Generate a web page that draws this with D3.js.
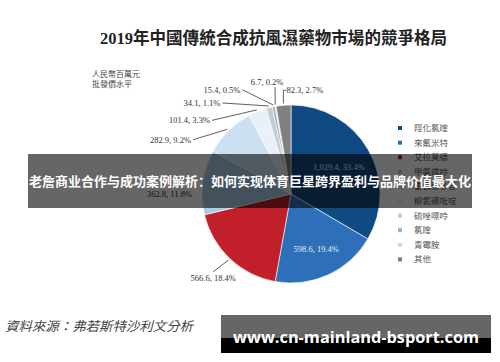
<!DOCTYPE html>
<html>
<head>
<meta charset="utf-8">
<script src="https://cdn.jsdelivr.net/npm/d3@7"></script>
<style>
  html, body { margin: 0; padding: 0; background: #fff; }
  svg { display: block; }
</style>
</head>
<body>
<svg id="chart" width="500" height="362"></svg>
<script>
// data
const drugs = ['羥化氯喹', '來氟米特', '艾拉莫德', '甲氨蝶呤', '雷公藤多苷',
  '柳氮磺吡啶', '硫唑嘌呤', '氯喹', '青霉胺', '其他'];
const sales = [1029.4, 598.6, 566.6, 362.8, 282.9, 101.4, 34.1, 15.4, 6.7, 82.3];
const sliceColors = ['#0f4a83', '#2d6fb8', '#c11f2a', '#a9cbe8', '#cde0f2',
  '#e9f0f8', '#c3ccd8', '#9fb0c4', '#ddd8c8', '#808080'];

const title = '2019年中國傳統合成抗風濕藥物市場的競爭格局';
const unitLines = ['人民幣百萬元', '批發價水平'];
const sourceNote = '資料來源：弗若斯特沙利文分析';
const bannerText = '老詹商业合作与成功案例解析：如何实现体育巨星跨界盈利与品牌价值最大化';
const watermark = 'www.cn-mainland-bsport.com';

// callout placement for each slice (angle in degrees from 12 o'clock, radius)
const callouts = [
  { mode: 'inside', k: 0.62 },
  { mode: 'inside', k: 0.68 },
  { a: 225, r: 110, anchor: 'below' },
  { a: 270, r: 97, anchor: 'end', noLine: true },
  { a: 299, r: 112, anchor: 'end' },
  { a: 313, r: 108, anchor: 'end' },
  { a: 323, r: 114, anchor: 'end' },
  { a: 335, r: 115, anchor: 'end' },
  { a: 351.5, r: 108, anchor: 'above' },
  { a: 356, r: 104, anchor: 'bracket' }
];

const svg = d3.select('#chart');
const cx = 291, cy = 194, radius = 89;
const serif = '"Liberation Serif", "Noto Sans CJK TC", serif';
const cjk = '"Noto Sans CJK TC", "Noto Sans CJK SC", sans-serif';

// title
svg.append('text')
  .attr('x', 100).attr('y', 44)
  .attr('textLength', 347).attr('lengthAdjust', 'spacingAndGlyphs')
  .style('font-family', serif).style('font-weight', 'bold')
  .style('font-size', '16.5px').style('fill', '#222')
  .text(title);

svg.selectAll('.unit')
  .data(unitLines)
  .enter().append('text')
  .attr('class', 'unit')
  .attr('x', 92).attr('y', (d, i) => 77 + i * 10)
  .style('font-family', cjk).style('font-size', '8px').style('fill', '#444')
  .text(d => d);

// pie
const total = d3.sum(sales);
const pie = d3.pie().sort(null).value(d => d)(sales);
const arc = d3.arc().innerRadius(0).outerRadius(radius);
const g = svg.append('g').attr('transform', `translate(${cx},${cy})`);

g.selectAll('path.slice')
  .data(pie)
  .enter().append('path')
  .attr('class', 'slice')
  .attr('d', arc)
  .attr('fill', (d, i) => sliceColors[i])
  .attr('stroke', '#fff')
  .attr('stroke-width', 0.6);

const fmtVal = d3.format(',.1f');
const fmtPct = d3.format('.1%');
const labelOf = v => `${fmtVal(v)}, ${fmtPct(v / total)}`;
const polar = (deg, r) => {
  const t = deg * Math.PI / 180;
  return [Math.sin(t) * r, -Math.cos(t) * r];
};

pie.forEach((d, i) => {
  const c = callouts[i];
  const txt = labelOf(d.value);
  const label = g.append('text')
    .style('font-family', serif).style('font-size', '8.5px')
    .text(txt);
  const mid = (d.startAngle + d.endAngle) / 2 * 180 / Math.PI;
  if (c.mode === 'inside') {
    const p = polar(mid, radius * c.k);
    label.attr('x', p[0]).attr('y', p[1] + 3)
      .attr('text-anchor', 'middle').style('fill', '#e8edf3');
    return;
  }
  const s = polar(mid, radius * 1.02);
  const e = polar(c.a, c.r);
  label.style('fill', '#333');
  if (!c.noLine) {
    if (c.anchor === 'bracket') {
      g.append('path')
        .attr('d', `M${s[0]},${s[1]} L${s[0]},${e[1]} L${s[0] + 3},${e[1]}`)
        .attr('fill', 'none').attr('stroke', '#333').attr('stroke-width', 0.8);
    } else {
      g.append('line')
        .attr('x1', s[0]).attr('y1', s[1]).attr('x2', e[0]).attr('y2', e[1])
        .attr('stroke', '#333').attr('stroke-width', 0.8);
    }
  }
  if (c.anchor === 'end') {
    label.attr('x', e[0] - 2).attr('y', e[1] + 3).attr('text-anchor', 'end');
  } else if (c.anchor === 'below') {
    label.attr('x', e[0]).attr('y', e[1] + 9).attr('text-anchor', 'middle');
  } else if (c.anchor === 'above') {
    label.attr('x', e[0] - 8).attr('y', e[1] - 2).attr('text-anchor', 'middle');
  } else {
    label.attr('x', s[0] + 3).attr('y', e[1] + 3).attr('text-anchor', 'start');
  }
});

// legend
const legend = svg.append('g').attr('transform', 'translate(398,128)');
const rows = legend.selectAll('g')
  .data(drugs)
  .enter().append('g')
  .attr('transform', (d, i) => `translate(0,${i * 14.6})`);
rows.append('rect')
  .attr('x', 0).attr('y', -2).attr('width', 4).attr('height', 4)
  .attr('fill', (d, i) => sliceColors[i]);
rows.append('text')
  .attr('x', 16).attr('y', 3)
  .style('font-family', cjk).style('font-size', '8.5px').style('fill', '#555')
  .text(d => d);

// source
svg.append('text')
  .attr('x', 5).attr('y', 331)
  .attr('textLength', 188).attr('lengthAdjust', 'spacingAndGlyphs')
  .style('font-family', cjk).style('font-size', '13px').style('fill', '#444')
  .style('font-style', 'italic')
  .text(sourceNote);

// overlay banner
svg.append('rect')
  .attr('x', 28).attr('y', 154).attr('width', 444).attr('height', 54)
  .attr('fill', 'rgba(0,0,0,0.6)');
svg.append('text')
  .attr('x', 250).attr('y', 186).attr('text-anchor', 'middle')
  .attr('textLength', 442).attr('lengthAdjust', 'spacingAndGlyphs')
  .style('font-family', '"Noto Sans CJK SC", sans-serif').style('font-weight', 'bold')
  .style('font-size', '12.6px').style('fill', '#fff')
  .text(bannerText);

// watermark box
svg.append('rect')
  .attr('x', 221).attr('y', 315).attr('width', 270).attr('height', 23)
  .attr('fill', '#666');
svg.append('rect')
  .attr('x', 221).attr('y', 338).attr('width', 270).attr('height', 15)
  .attr('fill', '#000');
svg.append('text')
  .attr('x', 356).attr('y', 343).attr('text-anchor', 'middle')
  .attr('textLength', 246).attr('lengthAdjust', 'spacingAndGlyphs')
  .style('font-family', '"Open Sans", sans-serif').style('font-weight', 'bold')
  .style('font-size', '16px').style('fill', '#fff')
  .text(watermark);
</script>
</body>
</html>
